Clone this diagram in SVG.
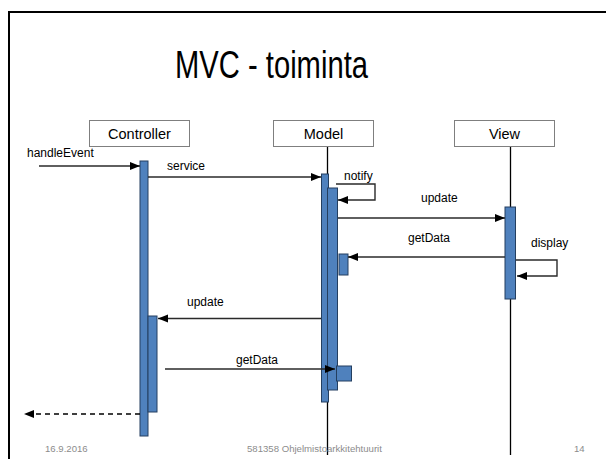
<svg xmlns="http://www.w3.org/2000/svg" width="606" height="459" viewBox="0 0 606 459">
<defs>
<style>
.frame{fill:none;stroke:#000;stroke-width:2}
.box{fill:#fff;stroke:#7f7f7f;stroke-width:1}
.boxlabel{font-family:"Liberation Sans",Arial,sans-serif;font-size:14.5px;fill:#000;text-anchor:middle}
.lbl{font-family:"Liberation Sans",Arial,sans-serif;font-size:12px;fill:#000}
.foot{font-family:"Liberation Sans",Arial,sans-serif;font-size:9.6px;fill:#8c8c8c}
.life{stroke:#000;stroke-width:1.3;fill:none}
.bar{fill:#4F81BD;stroke:#243F60;stroke-width:1}
.msg{stroke:#2a2a2a;stroke-width:1.4;fill:none;marker-end:url(#ah)}
.ret{stroke:#000;stroke-width:1.4;fill:none;stroke-dasharray:5 4;marker-end:url(#ah)}
</style>
<marker id="ah" markerUnits="userSpaceOnUse" markerWidth="10" markerHeight="10" viewBox="0 0 10 10" refX="10" refY="5" orient="auto">
<path d="M0,1 L10,5 L0,9 Z" fill="#000"/>
</marker>
</defs>
<rect width="606" height="459" fill="#fff"/>
<path class="frame" d="M9,459 V12 H606"/>
<text x="271.5" y="78" font-family="'Liberation Sans',Arial,sans-serif" font-size="38" text-anchor="middle" textLength="193" lengthAdjust="spacingAndGlyphs" fill="#000">MVC - toiminta</text>

<g id="controller">
<rect class="box" x="89.5" y="120.5" width="100" height="26"/>
<text class="boxlabel" x="139.5" y="139">Controller</text>
<rect class="bar" x="140" y="161" width="8" height="275"/>
<rect class="bar" x="148" y="316" width="9" height="96"/>
</g>

<g id="model">
<rect class="box" x="273.5" y="120.5" width="100" height="26"/>
<text class="boxlabel" x="323.5" y="139">Model</text>
<line class="life" x1="327.5" y1="147" x2="327.5" y2="455"/>
<rect class="bar" x="321.5" y="174" width="7" height="228"/>
<rect class="bar" x="327.5" y="188" width="10" height="202"/>
<rect class="bar" x="339" y="254" width="9" height="21"/>
<rect class="bar" x="336.5" y="366" width="15" height="15"/>
</g>

<g id="view">
<rect class="box" x="454.5" y="120.5" width="100" height="26"/>
<text class="boxlabel" x="504.5" y="139">View</text>
<line class="life" x1="510.5" y1="147" x2="510.5" y2="455"/>
<rect class="bar" x="505" y="207" width="10.5" height="92"/>
</g>

<g id="connectors">
<path class="msg" d="M39,166 H140"/>
<path class="msg" d="M148,177 H321"/>
<path class="msg" d="M336,184 H375 V200 H338"/>
<path class="msg" d="M338,218 H505"/>
<path class="msg" d="M505,257 H348"/>
<path class="msg" d="M516,260 H557 V276 H517"/>
<path class="msg" d="M321,318.5 H158"/>
<path class="msg" d="M165,369 H335"/>
<path class="ret" d="M140,414 H24"/>
</g>

<g id="labels">
<text class="lbl" x="27" y="157">handleEvent</text>
<text class="lbl" x="167" y="170">service</text>
<text class="lbl" x="344" y="180">notify</text>
<text class="lbl" x="421" y="202">update</text>
<text class="lbl" x="408" y="242">getData</text>
<text class="lbl" x="531" y="247">display</text>
<text class="lbl" x="187" y="306">update</text>
<text class="lbl" x="236" y="364">getData</text>
</g>

<g id="footer">
<text class="foot" x="45" y="452">16.9.2016</text>
<text class="foot" x="247" y="452">581358 Ohjelmistoarkkitehtuurit</text>
<text class="foot" x="574" y="452">14</text>
</g>
</svg>
